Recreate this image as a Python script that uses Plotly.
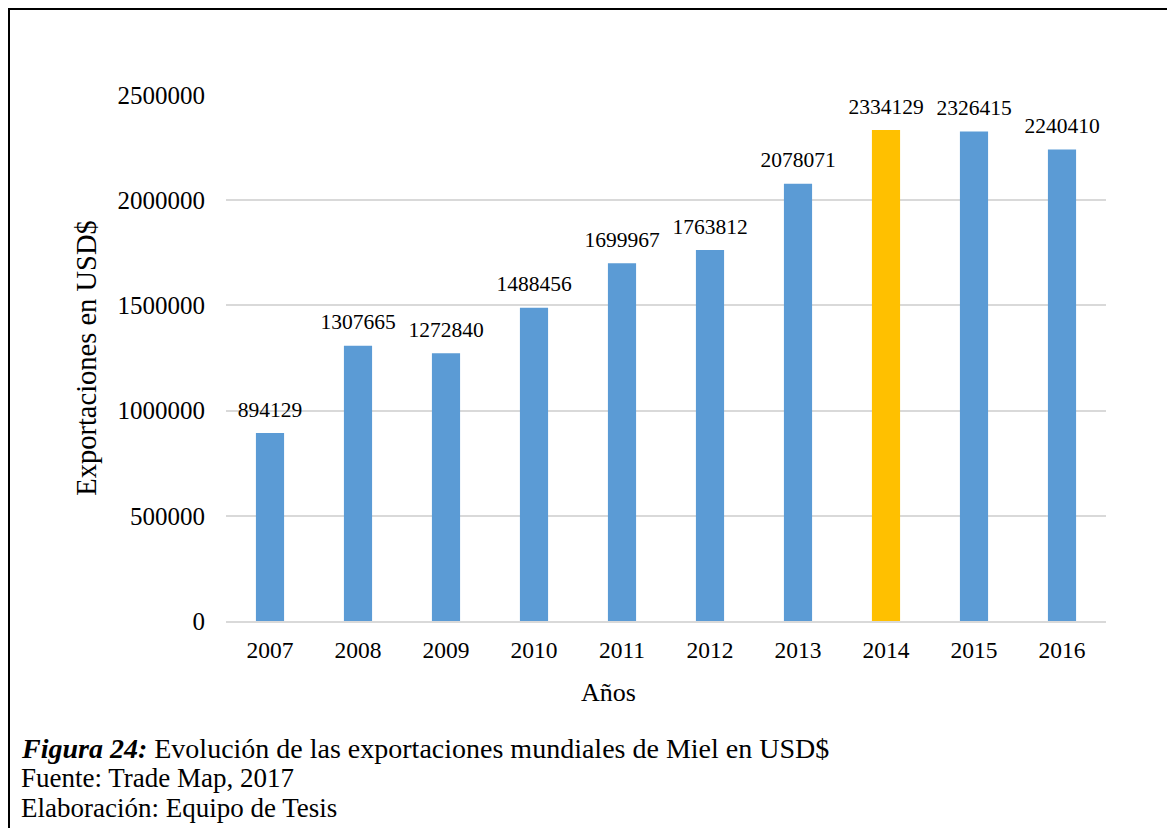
import plotly.graph_objects as go

# Datos del gráfico
anios = ["2007", "2008", "2009", "2010", "2011", "2012", "2013", "2014", "2015", "2016"]
exportaciones = [894129, 1307665, 1272840, 1488456, 1699967, 1763812, 2078071, 2334129, 2326415, 2240410]
anio_destacado = "2014"

azul = "#5B9BD5"
dorado = "#FFC000"
colores = [dorado if a == anio_destacado else azul for a in anios]

fuente = "Liberation Serif, Times New Roman, serif"

fig = go.Figure()
fig.add_trace(go.Bar(
    x=anios,
    y=exportaciones,
    marker=dict(color=colores, line=dict(width=0)),
    hoverinfo="x+y",
))
# Etiquetas de datos sobre cada barra (marcador invisible para separarlas)
fig.add_trace(go.Scatter(
    x=anios,
    y=exportaciones,
    mode="markers+text",
    marker=dict(size=16, opacity=0),
    text=[str(v) for v in exportaciones],
    textposition="top center",
    textfont=dict(family=fuente, size=21.5, color="black"),
    cliponaxis=False,
    hoverinfo="skip",
))

# Tamaño de la figura y márgenes (la página añade 8 px de margen al body)
W, H = 1160, 820
L, T = 218, 87
R = W - 1098
B = H - 613
pw, ph = W - L - R, H - T - B

def px_x(x):
    return (x - L) / pw

def px_y(y):
    return (H - B - y) / ph

fig.update_layout(
    width=W, height=H,
    margin=dict(l=L, r=R, t=T, b=B),
    plot_bgcolor="white", paper_bgcolor="white",
    bargap=0.68,
    showlegend=False,
    font=dict(family=fuente, color="black"),
    xaxis=dict(
        range=[-0.5, len(anios) - 0.5],
        showline=True, linecolor="#d9d9d9", linewidth=1.5,
        tickfont=dict(size=23.5), ticklabelstandoff=7,
    ),
    yaxis=dict(
        range=[0, 2500000], tickvals=[0, 500000, 1000000, 1500000, 2000000, 2500000],
        tickformat="d",
        gridcolor="#d9d9d9", gridwidth=1.5, zeroline=False,
        tickfont=dict(size=25), ticklabelstandoff=20,
        title=dict(text="Exportaciones en USD$", font=dict(size=28.5), standoff=12),
    ),
    shapes=[dict(
        type="rect", xref="paper", yref="paper",
        x0=px_x(1), x1=px_x(W + 20), y0=px_y(H + 20), y1=px_y(1),
        line=dict(color="black", width=2), fillcolor="rgba(0,0,0,0)",
    )],
)

# Título del eje X (centrado en el área del gráfico completo, como en el original)
fig.add_annotation(
    text="Años", xref="paper", yref="paper",
    x=px_x(600), y=px_y(684), xanchor="center", yanchor="middle",
    showarrow=False, font=dict(family=fuente, size=26, color="black"),
)

# Pie de figura
pie = [
    ("<b><i>Figura 24:</i></b> Evolución de las exportaciones mundiales de Miel en USD$", 28),
    ("Fuente: Trade Map, 2017", 27),
    ("Elaboración: Equipo de Tesis", 27),
]
for (texto, tam), yc in zip(pie, [740, 770, 800]):
    fig.add_annotation(
        text=texto, xref="paper", yref="paper",
        x=px_x(11), y=px_y(yc), xanchor="left", yanchor="middle",
        showarrow=False, font=dict(family=fuente, size=tam, color="black"),
    )

fig.write_html("out.html")
